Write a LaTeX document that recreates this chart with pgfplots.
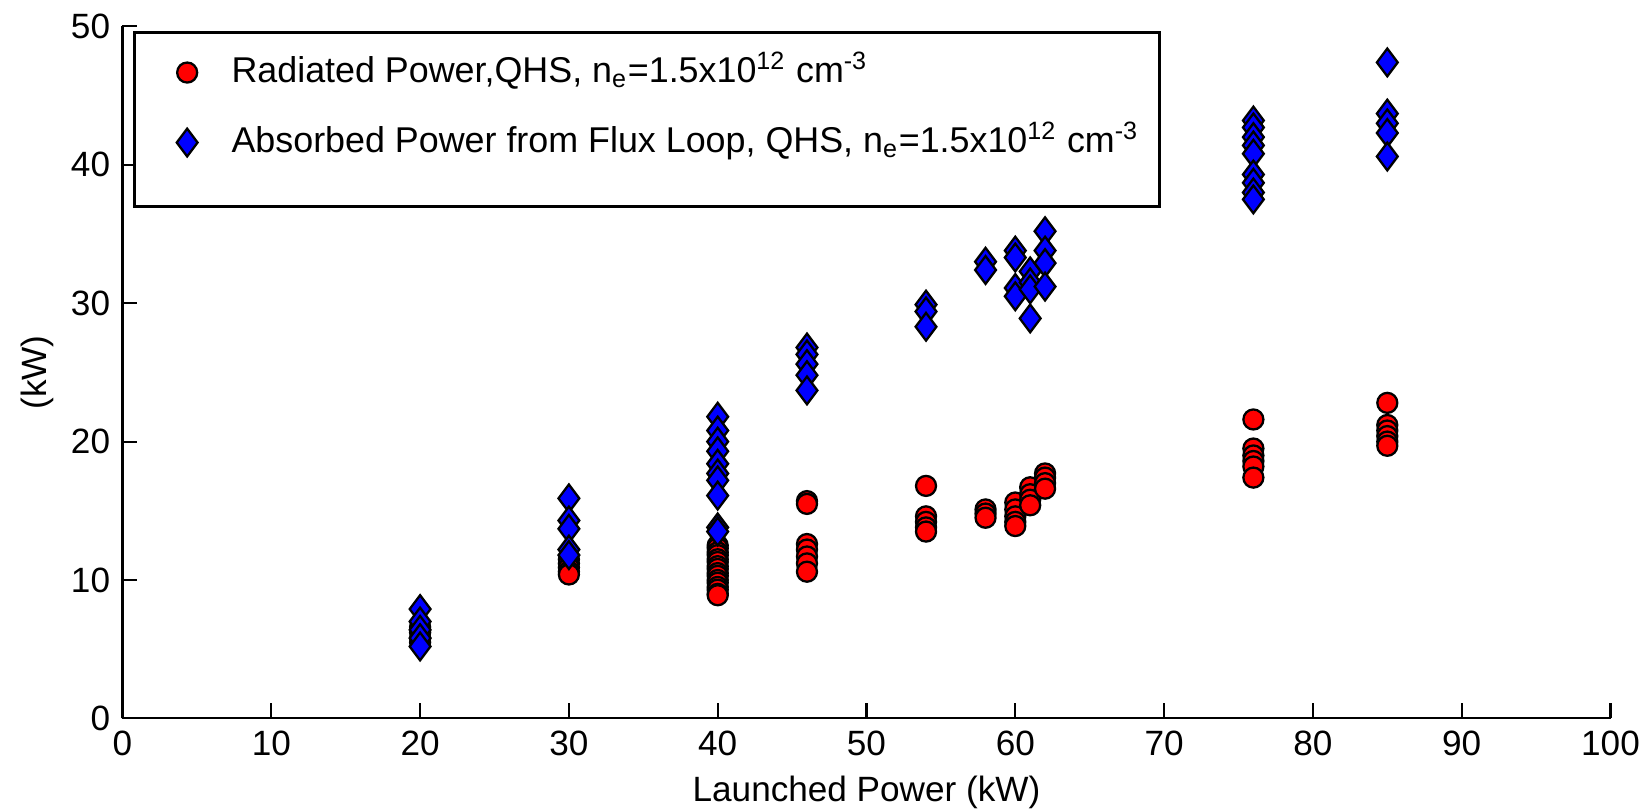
\documentclass[border=0pt]{standalone}
\usepackage{fontspec}
\setmainfont{Liberation Sans}
\usepackage{pgfplots}
\pgfplotsset{compat=1.18}
\begin{document}
\begin{tikzpicture}
\begin{axis}[
  name=ax,
  at={(0,0)}, anchor=south west,
  scale only axis,
  width=14.88cm, height=6.92cm,
  xmin=0, xmax=100, ymin=0, ymax=50,
  xtick={0,10,...,100}, ytick={0,10,...,50},
  axis x line*=bottom, axis y line*=left,
  axis line style={line width=0.6pt, black},
  tick align=inside,
  major tick length=1.5mm,
  tick style={line width=0.6pt, black},
  /pgf/number format/assume math mode=true,
  ticklabel style={font=\fontsize{10}{12}\selectfont},
  xlabel={Launched Power (kW)},
  ylabel={(kW)},
  label style={font=\fontsize{10}{12}\selectfont},
  xlabel style={yshift=1pt},
  ylabel style={yshift=-2pt},
  legend cell align=left,
  legend image code/.code={%
    \path (0cm,1.2mm) (0.3cm,1.2mm);
    \draw[mark repeat=2,mark phase=2,#1] plot coordinates {(0cm,1.2mm) (0.3cm,1.2mm) (0.6cm,1.2mm)};},
  legend style={
    at={(0.00706,0.99306)}, anchor=north west,
    draw=black, line width=0.9pt,
    font=\fontsize{10.2}{12}\selectfont,
    inner xsep=2.1mm, inner ysep=2.5mm,
    row sep=1.65mm,
    nodes={inner sep=0pt, text height=2.47mm, text depth=2.88mm},
    /tikz/every odd column/.append style={column sep=3.4mm},
  },
]
\addplot[only marks, mark=*, mark size=2.85pt,
  mark options={fill=red, draw=black, line width=0.65pt}]
coordinates {
(20,6.6) (20,6.2) (20,5.8) (20,5.5)
(30,11.5) (30,11.2) (30,10.9) (30,10.6) (30,10.4)
(40,12.5) (40,12.3) (40,12.0) (40,11.8) (40,11.5) (40,11.3) (40,11.0) (40,10.8) (40,10.5) (40,10.3) (40,10.0) (40,9.8) (40,9.5) (40,9.3) (40,9.0) (40,8.9)
(46,15.7) (46,15.5) (46,12.6) (46,12.2) (46,11.7) (46,11.2) (46,10.6)
(54,16.8) (54,14.6) (54,14.2) (54,13.8) (54,13.5)
(58,15.1) (58,14.8) (58,14.5)
(60,15.6) (60,15.1) (60,14.6) (60,14.2) (60,13.9)
(61,16.7) (61,16.2) (61,15.8) (61,15.4)
(62,17.7) (62,17.4) (62,17.0) (62,16.6)
(76,21.6) (76,19.5) (76,19.0) (76,18.6) (76,18.2) (76,17.4)
(85,22.8) (85,21.2) (85,20.8) (85,20.4) (85,20.0) (85,19.7)
};
\addlegendentry{Radiated Power,QHS, n\textsubscript{e}=1.5x10\textsuperscript{12} cm\textsuperscript{-3}}
\addplot[only marks, mark=diamond*, mark size=3.95pt,
  mark options={fill=blue, draw=black, line width=0.65pt}]
coordinates {
(20,7.9) (20,7.0) (20,6.4) (20,5.8) (20,5.2)
(30,15.9) (30,14.3) (30,13.7) (30,12.2) (30,11.8)
(40,21.8) (40,20.8) (40,20.0) (40,19.3) (40,18.4) (40,17.7) (40,17.2) (40,16.1) (40,13.8) (40,13.5)
(46,26.8) (46,26.3) (46,25.6) (46,24.8) (46,23.7)
(54,29.9) (54,29.4) (54,28.3)
(58,33.0) (58,32.4)
(60,33.8) (60,33.3) (60,31.1) (60,30.5)
(61,32.3) (61,31.5) (61,31.0) (61,28.9)
(62,35.2) (62,33.8) (62,32.9) (62,31.2)
(76,43.2) (76,42.7) (76,42.0) (76,41.4) (76,40.8) (76,39.3) (76,38.7) (76,38.0) (76,37.5)
(85,47.4) (85,43.7) (85,43.0) (85,42.3) (85,40.6)
};
\addlegendentry{Absorbed Power from Flux Loop, QHS, n\textsubscript{e}=1.5x10\textsuperscript{12} cm\textsuperscript{-3}}
\end{axis}
\pgfresetboundingbox
\path[use as bounding box] (-1.225cm,-0.916cm) rectangle (15.195cm,7.184cm);
\end{tikzpicture}
\end{document}
